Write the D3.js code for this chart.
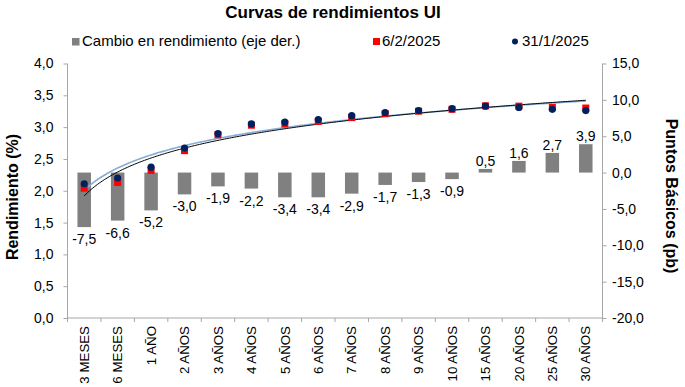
<!DOCTYPE html>
<html>
<head>
<meta charset="utf-8">
<script src="https://cdn.jsdelivr.net/npm/d3@7"></script>
<style>
  body { margin: 0; background: #fff; }
  svg { font-family: "Liberation Sans", Arial, sans-serif; }
  .axis path, .axis line { stroke: #a6a6a6; }
  .axis text { fill: #000; font-size: 14px; }
  .axis.xaxis text { font-size: 13.3px; }
</style>
</head>
<body>
<svg id="chart" width="685" height="387"></svg>
<script>
const categories = ['3 MESES', '6 MESES', '1 AÑO', '2 AÑOS', '3 AÑOS', '4 AÑOS', '5 AÑOS', '6 AÑOS',
  '7 AÑOS', '8 AÑOS', '9 AÑOS', '10 AÑOS', '15 AÑOS', '20 AÑOS', '25 AÑOS', '30 AÑOS']

// rendimiento (%) 6/2/2025
const yield0602 = [2.04, 2.13, 2.32, 2.63, 2.88, 3.03, 3.05, 3.09, 3.15, 3.21, 3.25, 3.28, 3.335, 3.33, 3.31, 3.30]
// rendimiento (%) 31/1/2025
const yield3101 = [2.11, 2.20, 2.37, 2.67, 2.90, 3.05, 3.08, 3.12, 3.18, 3.23, 3.26, 3.29, 3.33, 3.31, 3.28, 3.26]
// cambio en puntos basicos
const change = [-7.5, -6.6, -5.2, -3.0, -1.9, -2.2, -3.4, -3.4, -2.9, -1.7, -1.3, -0.9, 0.5, 1.6, 2.7, 3.9]

const leftTicks = [0, 0.5, 1, 1.5, 2, 2.5, 3, 3.5, 4]
const rightTicks = [-20, -15, -10, -5, 0, 5, 10, 15]

const locale = d3.formatLocale({ decimal: ',', thousands: '.', grouping: [3], currency: ['', ''], minus: '-' })
const f1 = locale.format('.1f')

const svg = d3.select('#chart')
const pLeft = 67.5, pRight = 602.5, pTop = 63.5, pBottom = 318

const x = d3.scaleBand().domain(categories).range([pLeft, pRight])
const yL = d3.scaleLinear().domain([0, 4]).range([pBottom, pTop])
const yR = d3.scaleLinear().domain([-20, 15]).range([pBottom, pTop])
const cx = d => x(d) + x.bandwidth() / 2

// title
svg.append('text')
  .attr('x', 333).attr('y', 18)
  .attr('text-anchor', 'middle')
  .style('font-size', '17px').style('font-weight', 'bold')
  .text('Curvas de rendimientos UI')

// legend
const lg = svg.append('g').attr('transform', 'translate(0, 46)')
lg.append('rect').attr('x', 72).attr('y', -8).attr('width', 7.5).attr('height', 7.5).attr('fill', '#808080')
lg.append('text').attr('x', 82).attr('y', 0).style('font-size', '15px').text('Cambio en rendimiento (eje der.)')
lg.append('rect').attr('x', 373).attr('y', -8).attr('width', 7).attr('height', 7).attr('fill', '#ff0000')
lg.append('text').attr('x', 382).attr('y', 0).style('font-size', '15px').text('6/2/2025')
lg.append('circle').attr('cx', 515).attr('cy', -4.5).attr('r', 3).attr('fill', '#002060')
lg.append('text').attr('x', 522).attr('y', 0).style('font-size', '15px').text('31/1/2025')

// axes
const axL = svg.append('g').attr('class', 'axis')
  .attr('transform', `translate(${pLeft},0)`)
  .call(d3.axisLeft(yL).tickValues(leftTicks).tickSize(4).tickPadding(10).tickFormat(f1))
const axR = svg.append('g').attr('class', 'axis')
  .attr('transform', `translate(${pRight},0)`)
  .call(d3.axisRight(yR).tickValues(rightTicks).tickSize(4).tickPadding(5.5).tickFormat(f1))
axL.select('.domain').attr('d', `M0,${pTop}V${pBottom}`)
axR.select('.domain').attr('d', `M0,${pTop}V${pBottom}`)

const axB = svg.append('g').attr('class', 'axis xaxis')
  .attr('transform', `translate(0,${pBottom})`)
  .call(d3.axisBottom(x).tickSize(0).tickPadding(0))
axB.select('.domain').attr('d', `M${pLeft},0H${pRight}`)
axB.selectAll('.tick text')
  .attr('transform', 'rotate(-90)')
  .attr('text-anchor', 'end')
  .attr('x', -8).attr('y', 0).attr('dy', '0.35em')
axB.selectAll('.boundary')
  .data(categories.concat(['end']))
  .enter().append('line')
  .attr('class', 'boundary')
  .attr('x1', (d, i) => pLeft + i * x.step()).attr('x2', (d, i) => pLeft + i * x.step())
  .attr('y1', 0).attr('y2', 4)

// axis titles
svg.append('text')
  .attr('transform', 'translate(18,197) rotate(-90)')
  .attr('text-anchor', 'middle')
  .style('font-size', '16px').style('font-weight', 'bold')
  .text('Rendimiento (%)')
svg.append('text')
  .attr('transform', 'translate(666,196) rotate(90)')
  .attr('text-anchor', 'middle')
  .style('font-size', '16px').style('font-weight', 'bold')
  .text('Puntos Básicos (pb)')

// bars
const bw = 13.5
svg.append('g').selectAll('rect')
  .data(change)
  .enter().append('rect')
  .attr('x', (d, i) => cx(categories[i]) - bw / 2)
  .attr('y', d => yR(Math.max(0, d)))
  .attr('width', bw)
  .attr('height', d => Math.abs(yR(d) - yR(0)))
  .attr('fill', '#808080')

svg.append('g').selectAll('text')
  .data(change)
  .enter().append('text')
  .attr('x', (d, i) => cx(categories[i]))
  .attr('y', d => d < 0 ? yR(d) + 17 : yR(d) - 3)
  .attr('text-anchor', 'middle')
  .style('font-size', '14px')
  .text(d => f1(d))

// logarithmic trendlines (as in the original spreadsheet)
function logFit(ys) {
  const lx = ys.map((d, i) => Math.log(i + 1))
  const mx = d3.mean(lx), my = d3.mean(ys)
  const b = d3.sum(lx, (v, i) => (v - mx) * (ys[i] - my)) / d3.sum(lx, v => (v - mx) * (v - mx))
  const a = my - b * mx
  return t => a + b * Math.log(t)
}
const xi = d3.scaleLinear().domain([1, categories.length]).range([cx(categories[0]), cx(categories[categories.length - 1])])
const ts = d3.range(1, categories.length + 0.001, 0.05)
const line = fn => d3.line().x(t => xi(t)).y(t => yL(fn(t)))(ts)

svg.append('path').attr('d', line(logFit(yield3101)))
  .attr('fill', 'none').attr('stroke', '#86aed6').attr('stroke-width', 1.6)
svg.append('path').attr('d', line(logFit(yield0602)))
  .attr('fill', 'none').attr('stroke', '#000').attr('stroke-width', 1)

// markers
svg.append('g').selectAll('rect')
  .data(yield0602)
  .enter().append('rect')
  .attr('x', (d, i) => cx(categories[i]) - 3.5)
  .attr('y', d => yL(d) - 3.5)
  .attr('width', 7).attr('height', 7)
  .attr('fill', '#ff0000')

svg.append('g').selectAll('circle')
  .data(yield3101)
  .enter().append('circle')
  .attr('cx', (d, i) => cx(categories[i]))
  .attr('cy', d => yL(d))
  .attr('r', 3.6)
  .attr('fill', '#002060')
</script>
</body>
</html>
